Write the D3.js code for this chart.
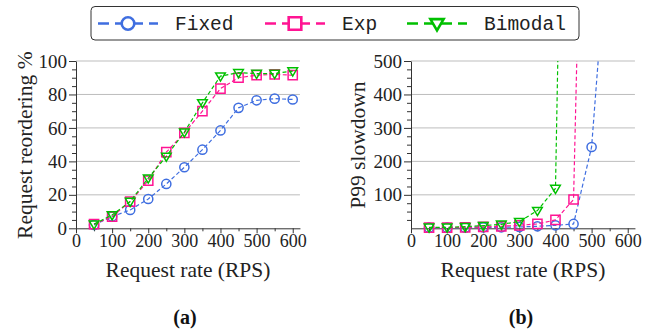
<!DOCTYPE html>
<html>
<head>
<meta charset="utf-8">
<script src="https://cdn.jsdelivr.net/npm/d3@7/dist/d3.min.js"></script>
<style>
  text.serif { font-family: "Liberation Serif", "Times New Roman", Tinos, serif !important; }
  text.mono { font-family: "Liberation Mono", "Courier New", monospace !important; }
</style>
</head>
<body style="margin:0">
<svg id="chart" width="668" height="333" font-family="Liberation Serif"></svg>
<script>
// Request rates (RPS) shared by every series
const rates = [50, 100, 150, 200, 250, 300, 350, 400, 450, 500, 550, 600];

// (a) request reordering, %
const reorderFixed   = [2, 7, 11, 17.5, 26.5, 36.5, 47, 58.5, 72, 76.5, 77.5, 77];
const reorderExp     = [2.5, 7, 16, 28.5, 45.5, 57, 70, 83.5, 90, 91.5, 92, 91.5];
const reorderBimodal = [2.5, 8, 16, 30, 43, 57.5, 75, 91, 93, 92.5, 92.5, 94];

// (b) P99 slowdown (values beyond the axis run off the top)
const slowFixed   = [2, 2, 2, 3, 3, 4, 6, 9, 13, 243, 950, null];
const slowExp     = [2, 2, 3, 4, 6, 9, 13, 25, 86, 2400, null, null];
const slowBimodal = [3, 3, 5, 8, 12, 20, 53, 119, 3100, null, null, null];

const seriesNames  = ["Fixed", "Exp", "Bimodal"];
const seriesColors = ["#3f6ee0", "#ff1493", "#00c000"];
const seriesShapes = ["circle", "square", "triangle"];

const xTicksMajor = [0, 100, 200, 300, 400, 500, 600];
const xTicksMinor = [50, 150, 250, 350, 450, 550];
const yTicksA = [0, 20, 40, 60, 80, 100];
const yTicksB = [100, 200, 300, 400, 500];

const svg = d3.select("#chart");
const plotTop = 61, plotBottom = 228.3;

function markerPath(shape, size) {
  const s = size;
  if (shape === "circle") return d3.symbol(d3.symbolCircle, Math.PI * s * s)();
  if (shape === "square") return `M${-s},${-s}H${s}V${s}H${-s}Z`;
  // downward triangle
  const h = s * 1.15;
  return `M${-s * 1.05},${-h * 0.6}L${s * 1.05},${-h * 0.6}L0,${h * 0.95}Z`;
}

function panel(opts) {
  const { x0, yDomain, yTicks, yMinorStep, series, yLabel, xLabelCx, sub, subCx, yLabelX, id } = opts;
  const x = d3.scaleLinear().domain([0, 620]).range([x0, x0 + 620 * 0.3612]);
  const y = d3.scaleLinear().domain(yDomain).range([plotBottom, plotTop]);
  const g = svg.append("g");

  // horizontal grid
  g.append("g").selectAll("line").data(yTicks.filter(v => v > yDomain[0]))
    .join("line")
    .attr("x1", x.range()[0]).attr("x2", x.range()[1])
    .attr("y1", d => y(d)).attr("y2", d => y(d))
    .attr("stroke", "#bdbdbd").attr("stroke-width", 1);

  // minor y ticks
  const yMinor = d3.range(yDomain[0], yDomain[1] + 0.001, yMinorStep).filter(v => !yTicks.includes(v) && v !== 0);
  g.append("g").attr("transform", `translate(${x0},0)`)
    .call(d3.axisLeft(y).tickValues(yMinor).tickSize(4).tickFormat(""))
    .call(a => a.select(".domain").remove())
    .selectAll("line").attr("stroke", "#333");

  // major y ticks
  const ya = g.append("g").attr("transform", `translate(${x0},0)`)
    .call(d3.axisLeft(y).tickValues(yTicks).tickSize(7).tickPadding(2).tickSizeOuter(0))
    .attr("font-family", "Liberation Serif").attr("font-size", 19);
  ya.selectAll("text").attr("class", "serif").attr("fill", "#222");
  ya.select(".domain").attr("stroke", "#333");
  ya.selectAll("line").attr("stroke", "#333");

  // x axis
  g.append("g").attr("transform", `translate(0,${plotBottom})`)
    .call(d3.axisBottom(x).tickValues(xTicksMinor).tickSize(3).tickFormat(""))
    .call(a => a.select(".domain").remove())
    .selectAll("line").attr("stroke", "#333");
  const xa = g.append("g").attr("transform", `translate(0,${plotBottom})`)
    .call(d3.axisBottom(x).tickValues(xTicksMajor).tickSize(5).tickPadding(1).tickSizeOuter(0))
    .attr("font-family", "Liberation Serif").attr("font-size", 18);
  xa.selectAll("text").attr("class", "serif").attr("fill", "#222");
  xa.select(".domain").attr("stroke", "#333");
  xa.selectAll("line").attr("stroke", "#333");

  // series
  g.append("clipPath").attr("id", id).append("rect")
    .attr("x", x.range()[0] - 10).attr("y", plotTop)
    .attr("width", x.range()[1] - x.range()[0] + 20).attr("height", plotBottom - plotTop + 10);
  const plot = g.append("g").attr("clip-path", `url(#${id})`);
  const line = d3.line().defined(d => d[1] != null).x(d => x(d[0])).y(d => y(d[1]));
  series.forEach((vals, i) => {
    const pts = rates.map((r, k) => [r, vals[k]]);
    plot.append("path").datum(pts)
      .attr("d", line).attr("fill", "none")
      .attr("stroke", seriesColors[i]).attr("stroke-width", 1.2)
      .attr("stroke-dasharray", "4,2.5");
    plot.append("g").selectAll("path").data(pts.filter(d => d[1] != null && d[1] <= yDomain[1]))
      .join("path")
      .attr("transform", d => `translate(${x(d[0])},${y(d[1])})`)
      .attr("d", markerPath(seriesShapes[i], 4.6))
      .attr("fill", "none").attr("stroke", seriesColors[i]).attr("stroke-width", 1.5);
  });

  // labels
  svg.append("text").attr("class", "serif")
    .attr("transform", `translate(${yLabelX},${(plotTop + plotBottom) / 2 + 0.5}) rotate(-90)`)
    .attr("text-anchor", "middle").attr("font-size", 21.5).attr("fill", "#222").text(yLabel);
  svg.append("text").attr("class", "serif")
    .attr("x", xLabelCx).attr("y", 277)
    .attr("text-anchor", "middle").attr("font-size", 21.5).attr("fill", "#222").text("Request rate (RPS)");
  svg.append("text").attr("class", "serif")
    .attr("x", subCx).attr("y", 324)
    .attr("text-anchor", "middle").attr("font-size", 20).attr("font-weight", "bold")
    .attr("fill", "#111").text(sub);
}

panel({ id: "clipA", x0: 76, yDomain: [0, 100], yTicks: yTicksA, yMinorStep: 5,
  series: [reorderFixed, reorderExp, reorderBimodal], yLabel: "Request reordering %",
  xLabelCx: 188, sub: "(a)", subCx: 185, yLabelX: 32 });
panel({ id: "clipB", x0: 411, yDomain: [0, 500], yTicks: yTicksB, yMinorStep: 25,
  series: [slowFixed, slowExp, slowBimodal], yLabel: "P99 slowdown",
  xLabelCx: 523, sub: "(b)", subCx: 521, yLabelX: 365 });

// legend
const lg = svg.append("g");
lg.append("rect").attr("x", 91).attr("y", 6.5).attr("width", 488).attr("height", 33.5)
  .attr("rx", 4).attr("fill", "#fff").attr("stroke", "#333").attr("stroke-width", 1);
const itemX = [98, 265, 407];
seriesNames.forEach((name, i) => {
  const gx = itemX[i], cy = 23.5;
  lg.append("line").attr("x1", gx).attr("x2", gx + 60).attr("y1", cy).attr("y2", cy)
    .attr("stroke", seriesColors[i]).attr("stroke-width", 2.6)
    .attr("stroke-dasharray", "11,6");
  lg.append("path").attr("transform", `translate(${gx + 30},${cy})`)
    .attr("d", markerPath(seriesShapes[i], 6.3))
    .attr("fill", "#fff").attr("stroke", seriesColors[i]).attr("stroke-width", 2.6);
  lg.append("text").attr("class", "mono").attr("x", gx + 77).attr("y", cy + 6)
    .attr("font-size", 19.5).attr("fill", "#222").text(name);
});
</script>
</body>
</html>
